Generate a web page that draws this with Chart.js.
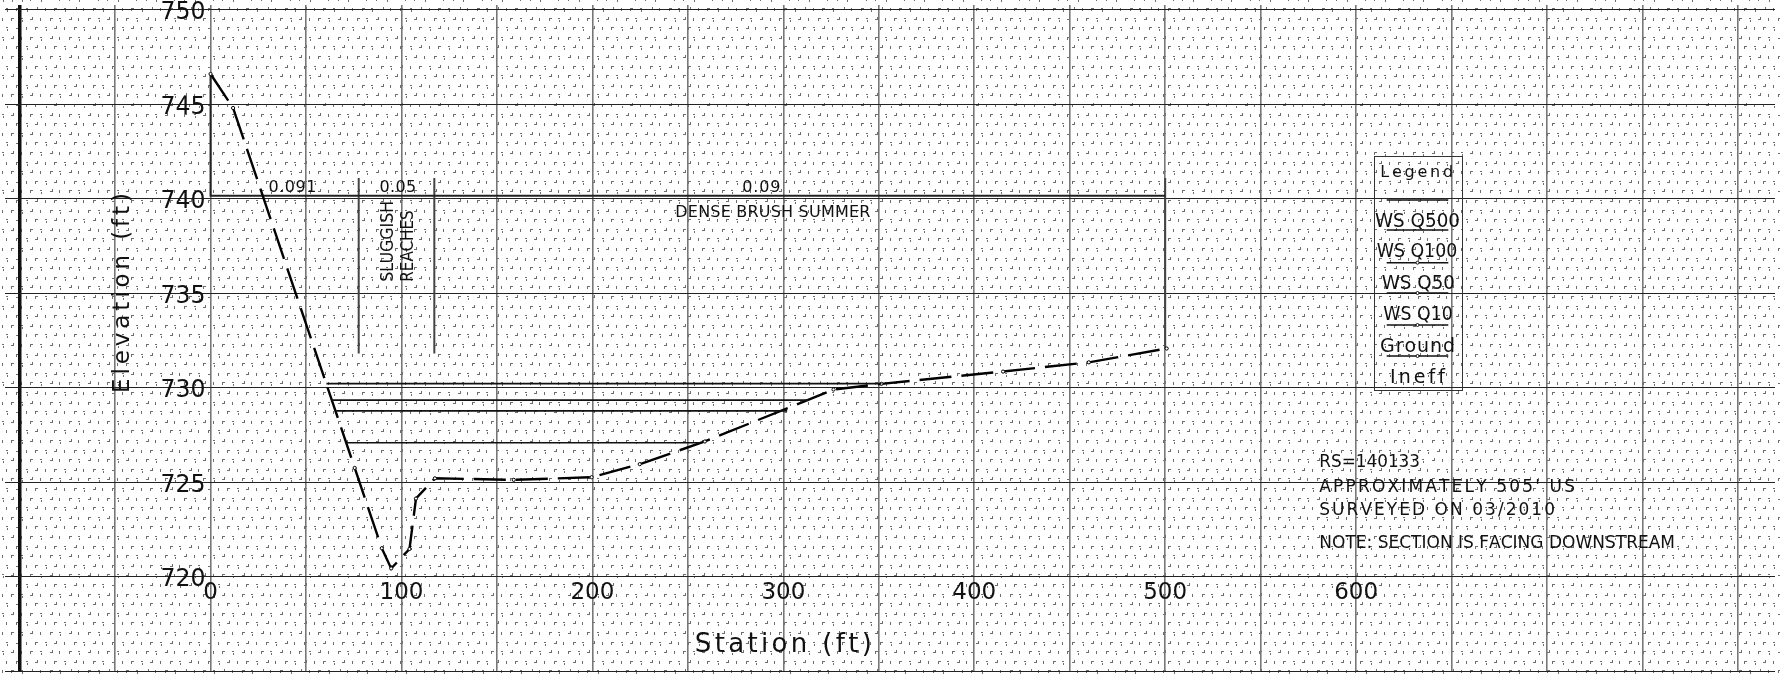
<!DOCTYPE html>
<html>
<head>
<meta charset="utf-8">
<script src="https://cdn.jsdelivr.net/npm/chart.js@4.4.1/dist/chart.umd.min.js"></script>
<style>
  html, body { margin: 0; padding: 0; background: #fff; }
  #wrap { width: 1780px; height: 677px; position: relative; }
</style>
</head>
<body>
<div id="wrap"><canvas id="xs"></canvas></div>
<script>
// Cross section RS=140133 — ground profile, water surfaces, roughness breaks

const groundStation = [0, 11.8, 75.5, 89.7, 94.6, 104.2, 107.6, 117.5, 158.8, 199.6, 224.8, 258.9, 326.3, 351.4, 415.1, 460.0, 500.8];
const groundElev    = [746.6, 744.8, 725.75, 721.5, 720.43, 721.46, 724.13, 725.2, 725.12, 725.26, 725.95, 727.15, 729.9, 730.2, 730.85, 731.34, 732.07];

const wsNames = ['WS Q500', 'WS Q100', 'WS Q50', 'WS Q10'];
const wsElev  = [730.21, 729.34, 728.77, 727.08];
const wsLeft  = [60.7, 63.3, 65.8, 71.1];
const wsRight = [351.4, 313.0, 302.0, 257.0];

const ineffStation = [0, 0, 500];
const ineffElev    = [746.6, 740.15, 740.15];

const nBreakStation = [77.6, 117.2, 500];
const nBreakTop     = [741.1, 741.1, 741.1];
const nBreakBottom  = [731.8, 731.8, 732.07];
const nValues       = ['0.091', '0.05', '0.09'];
const nLabelStation = [42.9, 98.1, 288.5];

const stationTicks = [0, 100, 200, 300, 400, 500, 600];
const elevTicks    = [720, 725, 730, 735, 740, 745, 750];

const legendLabels = ['Legend', 'WS Q500', 'WS Q100', 'WS Q50', 'WS Q10', 'Ground', 'Ineff'];
const noteLines = ['RS=140133', "APPROXIMATELY 505' US", 'SURVEYED ON 03/2010', 'NOTE: SECTION IS FACING DOWNSTREAM'];

const FONT = '"DejaVu Sans", "Liberation Sans", sans-serif';

// draw text stretched or squeezed to an exact width
function fitText(ctx, text, x, y, width, align) {
  const chars = [...text];
  const widths = chars.map(c => ctx.measureText(c).width);
  const natural = widths.reduce((a, b) => a + b, 0);
  let left = align === 'center' ? x - width / 2 : (align === 'right' ? x - width : x);
  ctx.save();
  ctx.textAlign = 'left';
  if (natural > width || chars.length < 2) {
    ctx.translate(left, y);
    ctx.scale(width / natural, 1);
    ctx.fillText(text, 0, 0);
  } else {
    const gap = (width - natural) / (chars.length - 1);
    chars.forEach((c, i) => { ctx.fillText(c, left, y); left += widths[i] + gap; });
  }
  ctx.restore();
}

function rotatedText(ctx, text, x, y, width, align) {
  ctx.save();
  ctx.translate(x, y);
  ctx.rotate(-Math.PI / 2);
  fitText(ctx, text, 0, 0, width, align);
  ctx.restore();
}

// stippled drafting-sheet background
const sheet = {
  id: 'sheet',
  beforeDraw(chart) {
    const { ctx, width, height } = chart;
    ctx.save();
    ctx.fillStyle = '#ffffff';
    ctx.fillRect(0, 0, width, height);
    const step = 9.6;
    const ox = 14, oy = 5;
    for (let r = -1; oy + r * step < height; r++) {
      for (let c = -2; ox + c * step < width; c++) {
        const x = Math.round(ox + c * step + (r % 2 ? 4.8 : 0) + 2);
        const y = Math.round(oy + r * step + 3);
        const k = (r * 7 + c * 3) % 4;
        ctx.fillStyle = '#6e6e6e';
        if (k === 0) { ctx.fillRect(x, y, 3, 1); ctx.fillRect(x, y + 1, 1, 2); }
        else if (k === 1) { ctx.fillRect(x, y, 1, 3); }
        else if (k === 2) { ctx.fillRect(x, y + 1, 3, 1); ctx.fillRect(x + 2, y - 1, 1, 2); }
        else { ctx.fillRect(x, y, 2, 1); ctx.fillRect(x + 1, y + 2, 1, 2); }
      }
    }
    ctx.restore();
  }
};

// labels, notes and legend drawn over the plot
const annotations = {
  id: 'annotations',
  afterDatasetsDraw(chart) {
    const { ctx } = chart;
    const xs = chart.scales.x, ys = chart.scales.y;
    ctx.save();
    ctx.fillStyle = '#111';
    ctx.textBaseline = 'alphabetic';

    // elevation tick labels beside station 0
    ctx.font = '25px ' + FONT;
    const x0 = xs.getPixelForValue(0);
    elevTicks.forEach(v => fitText(ctx, String(v), x0 - 5, ys.getPixelForValue(v) + 9.5, 45, 'right'));

    // station tick labels under elevation 720
    ctx.font = '23px ' + FONT;
    const yBase = ys.getPixelForValue(720);
    stationTicks.forEach(v => {
      ctx.textAlign = 'center';
      ctx.fillText(String(v), xs.getPixelForValue(v), yBase + 22.5);
    });

    // axis titles
    ctx.font = '23px ' + FONT;
    rotatedText(ctx, 'Elevation (ft)', 128.5, 293, 200, 'center');
    ctx.font = '26px ' + FONT;
    fitText(ctx, 'Station (ft)', 783.3, 651.5, 177, 'center');

    // Manning's n values
    ctx.font = '16px ' + FONT;
    const nWidths = [48, 36.7, 38];
    const nBase = ys.getPixelForValue(740.15) - 3.5;
    nValues.forEach((t, i) => fitText(ctx, t, xs.getPixelForValue(nLabelStation[i]), nBase, nWidths[i], 'center'));
    fitText(ctx, 'DENSE BRUSH SUMMER', xs.getPixelForValue(294.5), nBase + 25, 195, 'center');

    ctx.font = '18px ' + FONT;
    rotatedText(ctx, 'SLUGGISH', 393.3, 281.7, 81.7, 'left');
    rotatedText(ctx, 'REACHES', 413.3, 281.7, 71.7, 'left');

    // legend box
    ctx.strokeStyle = '#333';
    ctx.lineWidth = 1;
    ctx.strokeRect(1374.5, 156.5, 88, 234);
    ctx.font = '16px ' + FONT;
    fitText(ctx, legendLabels[0], 1416.7, 176.7, 73, 'center');
    ctx.font = '19px ' + FONT;
    const legX = [1417.5, 1417, 1418.3, 1418, 1417.5, 1417.5];
    const legW = [85, 80.6, 73.3, 69.4, 75, 55];
    const legY = [226.7, 256.7, 289, 320, 351.7, 383.3];
    for (let i = 1; i < legendLabels.length; i++) {
      fitText(ctx, legendLabels[i], legX[i - 1], legY[i - 1], legW[i - 1], 'center');
    }
    ctx.strokeStyle = '#111';
    ctx.lineWidth = 1.5;
    [200, 230, 262.7, 293, 325, 356].forEach((y, i) => {
      ctx.beginPath();
      ctx.moveTo(1386.7, y);
      ctx.lineTo(1448.3, y);
      ctx.stroke();
      if (i >= 2) {
        ctx.beginPath();
        ctx.arc(1417.5, y, 1.5, 0, Math.PI * 2);
        ctx.fillStyle = '#fff';
        ctx.fill();
        ctx.lineWidth = 1;
        ctx.stroke();
        ctx.lineWidth = 1.5;
      }
    });

    // section notes
    ctx.fillStyle = '#111';
    ctx.font = '17px ' + FONT;
    const noteY = [466.7, 491.7, 515, 548.3];
    const noteW = [100.7, 255.7, 235.7, 355.7];
    noteLines.forEach((t, i) => fitText(ctx, t, 1319.3, noteY[i], noteW[i], 'left'));

    ctx.restore();
  }
};

const toPoints = (xsArr, ysArr) => xsArr.map((x, i) => ({ x, y: ysArr[i] }));

const datasets = [];
wsNames.forEach((name, i) => {
  datasets.push({
    label: name,
    data: [{ x: wsLeft[i], y: wsElev[i] }, { x: wsRight[i], y: wsElev[i] }],
    borderColor: '#111', borderWidth: 1.6, pointRadius: 0, showLine: true
  });
});
datasets.push({
  label: 'Ground',
  data: toPoints(groundStation, groundElev),
  borderColor: '#000', borderWidth: 2.4, borderDash: [32, 10],
  pointRadius: 1.6, pointBackgroundColor: '#fff', pointBorderColor: '#000', pointBorderWidth: 1,
  showLine: true
});
datasets.push({
  label: 'Ineff',
  data: toPoints(ineffStation, ineffElev),
  borderColor: '#222', borderWidth: 2, pointRadius: 0, showLine: true
});
nBreakStation.forEach((s, i) => {
  datasets.push({
    label: 'n break ' + (i + 1),
    data: [{ x: s, y: nBreakTop[i] }, { x: s, y: nBreakBottom[i] }],
    borderColor: '#444', borderWidth: 2, pointRadius: 0, showLine: true
  });
});

new Chart(document.getElementById('xs'), {
  type: 'scatter',
  data: { datasets },
  options: {
    responsive: true,
    maintainAspectRatio: false,
    animation: false,
    events: [],
    layout: { padding: 0 },
    plugins: { legend: { display: false }, tooltip: { enabled: false } },
    scales: {
      x: {
        type: 'linear', min: -107.66, max: 819.4,
        border: { display: false },
        ticks: { display: false, stepSize: 50, includeBounds: false },
        grid: {
          drawTicks: false,
          color: c => (c.tick && c.tick.value % 50 === 0) ? (c.tick.value === -100 ? '#111' : '#777') : 'rgba(0,0,0,0)',
          lineWidth: c => (c.tick && c.tick.value === -100) ? 3.5 : 1.6
        }
      },
      y: {
        type: 'linear', min: 714.95, max: 750.25,
        border: { display: false },
        ticks: { display: false, stepSize: 5, includeBounds: false },
        grid: {
          drawTicks: false,
          color: c => (c.tick && c.tick.value % 5 === 0) ? '#222' : 'rgba(0,0,0,0)',
          lineWidth: 1.1
        }
      }
    }
  },
  plugins: [sheet, annotations]
});
</script>
</body>
</html>
